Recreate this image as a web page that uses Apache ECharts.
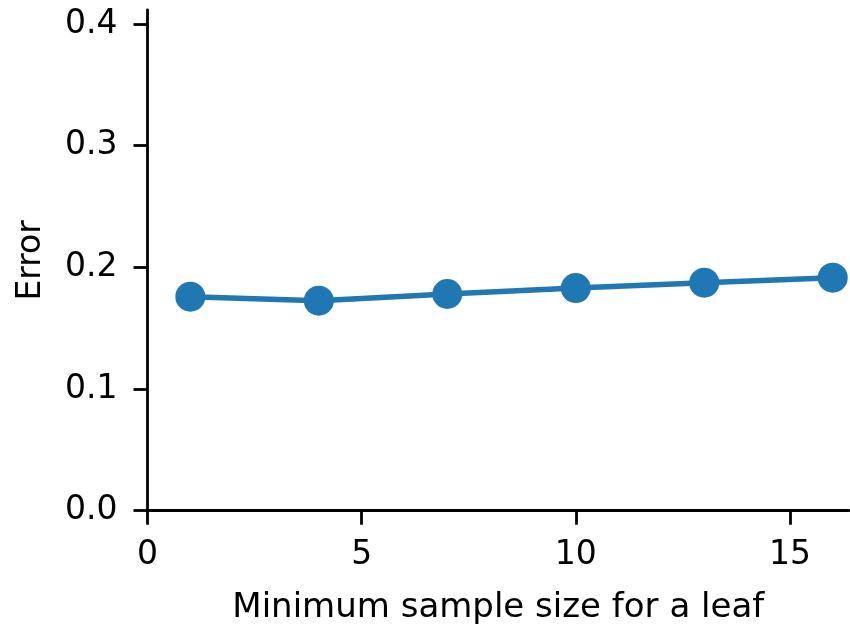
<!DOCTYPE html>
<html>
<head>
<meta charset="utf-8">
<script src="https://cdn.jsdelivr.net/npm/echarts@6/dist/echarts.min.js"></script>
<style>
html,body{margin:0;padding:0;background:#fff;}
#chart{width:850px;height:624px;}
</style>
</head>
<body>
<div id="chart"></div>
<script>
// Minimum samples per leaf vs. error
const leafSizes = [1, 4, 7, 10, 13, 16];
const errors = [0.1759, 0.1726, 0.1781, 0.1830, 0.1874, 0.1915];
const xTicks = [0, 5, 10, 15];
const yTicks = [0.0, 0.1, 0.2, 0.3, 0.4];

const chart = echarts.init(document.getElementById('chart'));
const font = 'DejaVu Sans';
const axisLine = { show: true, lineStyle: { color: '#000', width: 2.8 } };
const axisTick = { show: true, inside: false, length: 14, lineStyle: { color: '#000', width: 2.8 } };

chart.setOption({
  animation: false,
  grid: { left: 147.5, right: 1, top: 10, bottom: 113.3, containLabel: false, outerBoundsMode: 'none' },
  xAxis: {
    type: 'value',
    min: 0, max: 16.38, interval: 5,
    axisLine, axisTick,
    splitLine: { show: false },
    axisLabel: {
      color: '#000', fontFamily: font, fontSize: 33, margin: 28,
      showMaxLabel: false,
      formatter: v => xTicks.includes(v) ? String(v) : ''
    },
    name: 'Minimum sample size for a leaf',
    nameLocation: 'middle', nameGap: 80,
    nameTextStyle: { color: '#000', fontFamily: font, fontSize: 34 }
  },
  yAxis: {
    type: 'value',
    min: 0, max: 0.4115, interval: 0.1,
    axisLine, axisTick,
    splitLine: { show: false },
    axisLabel: {
      color: '#000', fontFamily: font, fontSize: 33, margin: 30,
      padding: [5, 0, 0, 0],
      showMaxLabel: false,
      formatter: v => {
        const t = yTicks.find(y => Math.abs(y - v) < 1e-6);
        return t === undefined ? '' : t.toFixed(1);
      }
    },
    name: 'Error',
    nameLocation: 'middle', nameGap: 100, nameRotate: 90,
    nameTextStyle: { color: '#000', fontFamily: font, fontSize: 33 }
  },
  series: [{
    type: 'line',
    data: leafSizes.map((x, i) => [x, errors[i]]),
    symbol: 'circle', symbolSize: 30,
    lineStyle: { color: '#1f77b4', width: 5.5 },
    itemStyle: { color: '#1f77b4' }
  }]
});
</script>
</body>
</html>
